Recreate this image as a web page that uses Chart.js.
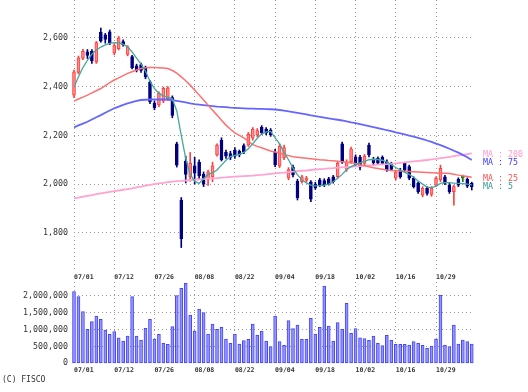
<!DOCTYPE html>
<html>
<head>
<meta charset="utf-8">
<script src="https://cdn.jsdelivr.net/npm/chart.js@4.4.1/dist/chart.umd.min.js"></script>
<style>
  body { margin: 0; background: #fff; width: 528px; height: 392px; overflow: hidden; position: relative; }
  #priceBox { position: absolute; left: 0; top: 0; width: 528px; height: 284px; }
  #volBox { position: absolute; left: 0; top: 282px; width: 528px; height: 94px; }
  #copy { position: absolute; left: 2px; top: 375px; font: 8px "DejaVu Sans Mono", monospace; color: #333; }
</style>
</head>
<body>
<div id="priceBox"><canvas id="priceChart"></canvas></div>
<div id="volBox"><canvas id="volChart"></canvas></div>
<div id="copy">(C) FISCO</div>
<script>
// trading days, 2024/07/01 - 2024/11/11
const dates = [
  '07/01','07/02','07/03','07/04','07/05','07/08','07/09','07/10','07/11','07/12',
  '07/16','07/17','07/18','07/19','07/22','07/23','07/24','07/25','07/26','07/29',
  '07/30','07/31','08/01','08/02','08/05','08/06','08/07','08/08','08/09','08/13',
  '08/14','08/15','08/16','08/19','08/20','08/21','08/22','08/23','08/26','08/27',
  '08/28','08/29','08/30','09/02','09/03','09/04','09/05','09/06','09/09','09/10',
  '09/11','09/12','09/13','09/17','09/18','09/19','09/20','09/24','09/25','09/26',
  '09/27','09/30','10/01','10/02','10/03','10/04','10/07','10/08','10/09','10/10',
  '10/11','10/15','10/16','10/17','10/18','10/21','10/22','10/23','10/24','10/25',
  '10/28','10/29','10/30','10/31','11/01','11/05','11/06','11/07','11/08','11/11'
];

const opens = [
  2365, 2458, 2515, 2543, 2545, 2500, 2622, 2612, 2625, 2538,
  2555, 2585, 2532, 2523, 2485, 2490, 2478, 2420, 2332, 2325,
  2340, 2350, 2355, 2165, 1935, 2095, 2030, 2075, 2090, 2040,
  2020, 2030, 2120, 2180, 2130, 2125, 2140, 2135, 2158, 2160,
  2188, 2202, 2233, 2225, 2222, 2130, 2075, 2108, 2026, 2070,
  2012, 2010, 2015, 2010, 2000, 2018, 2015, 2022, 2030, 2031,
  2165, 2060, 2092, 2112, 2110, 2085, 2160, 2102, 2106, 2110,
  2092, 2085, 2024, 2058, 2085, 2072, 2024, 2003, 1955, 1983,
  1958, 1996, 2017, 2030, 1996, 1969, 2020, 2024, 2020, 2003
];
const highs = [
  2468, 2525, 2553, 2552, 2552, 2585, 2640, 2618, 2632, 2576,
  2606, 2592, 2568, 2528, 2492, 2496, 2484, 2425, 2340, 2378,
  2398, 2400, 2362, 2172, 1945, 2115, 2130, 2110, 2100, 2050,
  2058, 2090, 2165, 2190, 2140, 2135, 2150, 2140, 2165, 2212,
  2232, 2228, 2240, 2232, 2228, 2143, 2165, 2160, 2068, 2078,
  2020, 2036, 2032, 2015, 2008, 2024, 2022, 2028, 2036, 2092,
  2172, 2100, 2152, 2120, 2118, 2122, 2168, 2110, 2112, 2116,
  2100, 2090, 2058, 2065, 2090, 2078, 2030, 2010, 1990, 1990,
  1990, 2030, 2078, 2036, 2003, 1996, 2026, 2037, 2026, 2008
];
const lows = [
  2355, 2452, 2510, 2515, 2495, 2495, 2582, 2578, 2572, 2530,
  2550, 2566, 2526, 2472, 2460, 2458, 2432, 2330, 2305, 2318,
  2334, 2342, 2272, 2070, 1740, 2005, 2012, 2000, 2020, 1990,
  1995, 2010, 2115, 2095, 2105, 2100, 2105, 2112, 2125, 2155,
  2180, 2195, 2203, 2202, 2196, 2072, 2068, 2100, 2018, 2030,
  1935, 2004, 2008, 1928, 1978, 1990, 1990, 1996, 2004, 2025,
  2085, 2052, 2085, 2075, 2058, 2078, 2112, 2080, 2080, 2080,
  2052, 2055, 2017, 2024, 2052, 2018, 1984, 1962, 1948, 1955,
  1950, 1990, 2010, 1998, 1962, 1914, 1990, 2010, 1986, 1976
];
const closes = [
  2460, 2518, 2545, 2528, 2505, 2580, 2586, 2593, 2578, 2568,
  2600, 2572, 2563, 2478, 2466, 2466, 2440, 2338, 2314, 2372,
  2393, 2395, 2282, 2078, 1775, 2040, 2085, 2045, 2035, 2000,
  2050, 2075, 2160, 2100, 2115, 2110, 2115, 2120, 2133, 2205,
  2225, 2220, 2210, 2210, 2202, 2080, 2155, 2150, 2060, 2038,
  1945, 2030, 2025, 1938, 1985, 1995, 1998, 2002, 2010, 2085,
  2090, 2092, 2145, 2080, 2070, 2115, 2120, 2088, 2086, 2085,
  2058, 2060, 2051, 2030, 2058, 2024, 1990, 1969, 1983, 1962,
  1983, 2024, 2065, 2003, 1969, 1990, 1996, 2024, 1992, 1990
];

const ma5 = [
  2397, 2440, 2478, 2508, 2533, 2550, 2562, 2571, 2577, 2580,
  2579, 2574, 2563, 2542, 2517, 2492, 2463, 2422, 2392, 2372,
  2362, 2357, 2350, 2300, 2200, 2105, 2040, 2012, 2003, 2022,
  2040, 2046, 2058, 2078, 2098, 2113, 2118, 2122, 2130, 2145,
  2165, 2188, 2206, 2214, 2216, 2190, 2165, 2130, 2100, 2066,
  2038, 2018, 2005, 1996, 1993, 1994, 1996, 2000, 2010, 2024,
  2040, 2060, 2072, 2080, 2087, 2093, 2100, 2102, 2101, 2098,
  2090, 2080, 2068, 2058, 2048, 2040, 2028, 2013, 2000, 1988,
  1986, 1992, 2003, 2006, 2006, 2004, 2003, 2002, 2000, 1997
];
const ma25 = [
  2341, 2349, 2357, 2365, 2374, 2383, 2392, 2404, 2416, 2427,
  2436, 2445, 2454, 2461, 2468, 2474, 2477, 2478, 2478, 2477,
  2476, 2474, 2466, 2455, 2440, 2424, 2406, 2386, 2365, 2345,
  2324, 2303, 2283, 2262, 2242, 2225, 2210, 2200, 2190, 2176,
  2162, 2155, 2149, 2142, 2136, 2132, 2128, 2122, 2117, 2112,
  2110, 2108, 2106, 2104, 2102, 2100, 2099, 2097, 2096, 2094,
  2092, 2090, 2088, 2085, 2080, 2076, 2071, 2067, 2064, 2061,
  2058, 2056, 2055, 2054, 2053, 2052, 2051, 2050, 2049, 2048,
  2047, 2046, 2045, 2045, 2044, 2041, 2037, 2034, 2031, 2028
];
const ma75 = [
  2233, 2241, 2248, 2256, 2265, 2274, 2283, 2293, 2302, 2311,
  2318, 2325, 2331, 2336, 2341, 2345, 2346, 2347, 2347, 2347,
  2347, 2347, 2344, 2341, 2338, 2335, 2331, 2328, 2326, 2324,
  2322, 2320, 2318, 2317, 2316, 2314, 2313, 2312, 2311, 2310,
  2310, 2309, 2309, 2308, 2307, 2306, 2304, 2301, 2298, 2295,
  2292, 2289, 2286, 2282, 2279, 2276, 2273, 2270, 2267, 2264,
  2261, 2257, 2253, 2250, 2246, 2242, 2238, 2234, 2230, 2226,
  2221, 2217, 2212, 2208, 2204, 2199, 2195, 2190, 2185, 2179,
  2173, 2166, 2160, 2153, 2145, 2137, 2129, 2120, 2110, 2099
];
const ma200 = [
  1942, 1945, 1949, 1952, 1955, 1959, 1962, 1965, 1968, 1971,
  1974, 1977, 1980, 1983, 1987, 1990, 1994, 1997, 2000, 2003,
  2005, 2008, 2010, 2012, 2013, 2015, 2017, 2018, 2020, 2021,
  2023, 2024, 2025, 2027, 2028, 2030, 2031, 2032, 2033, 2034,
  2035, 2037, 2038, 2040, 2042, 2044, 2046, 2047, 2049, 2051,
  2053, 2055, 2056, 2058, 2060, 2062, 2063, 2065, 2066, 2068,
  2069, 2070, 2071, 2073, 2074, 2075, 2077, 2078, 2080, 2081,
  2082, 2084, 2085, 2087, 2089, 2091, 2093, 2095, 2097, 2099,
  2102, 2104, 2107, 2109, 2112, 2115, 2118, 2120, 2123, 2126
];

const volumes = [
  2118000, 1970000, 1527000, 1006000, 1231000, 1400000, 1302000, 985000, 858000, 935000,
  757000, 660000, 808000, 1970000, 808000, 689000, 1036000, 1302000, 719000, 858000,
  592000, 562000, 1083000, 2000000, 2219000, 2367000, 1429000, 956000, 1598000, 1497000,
  867000, 1163000, 1006000, 1065000, 719000, 592000, 867000, 571000, 669000, 710000,
  1163000, 837000, 956000, 660000, 491000, 1400000, 639000, 533000, 1261000, 1024000,
  1133000, 710000, 710000, 1331000, 867000, 1065000, 2287000, 1104000, 660000, 1201000,
  1006000, 1775000, 888000, 1024000, 757000, 728000, 680000, 808000, 592000, 521000,
  828000, 680000, 562000, 562000, 562000, 542000, 639000, 592000, 533000, 444000,
  512000, 719000, 2021000, 542000, 491000, 1133000, 571000, 689000, 639000, 571000
];

const xTickIdx = [0, 9, 18, 27, 36, 45, 54, 63, 72, 81];
const priceTicks = [1800, 2000, 2200, 2400, 2600];
const volumeTicks = [0, 500000, 1000000, 1500000, 2000000];
const maNames = ['200', '75', '25', '5'];

const FONT = '"DejaVu Sans Mono", monospace';
Chart.defaults.font.family = FONT;
Chart.defaults.color = '#333';

function candleFill(i) {
  if (closes[i] > opens[i]) return '#ff8a8a';
  if (closes[i] < opens[i]) return '#000080';
  return '#3a9a3a';
}
function candleLine(i) {
  if (closes[i] > opens[i]) return '#ff4040';
  if (closes[i] < opens[i]) return '#000080';
  return '#1f7a1f';
}

// both panels share the same horizontal layout
function xScale(axisHeight) {
  return {
    type: 'linear',
    offset: false,
    min: 0,
    max: 89.5,
    grid: { color: '#999', lineWidth: 1, drawTicks: false, offset: false },
    border: { display: false, dash: [1, 3] },
    ticks: {
      align: 'start',
      padding: 3,
      font: { size: 6.5, weight: 'bold' },
      callback: function(v) { return dates[v]; }
    },
    afterBuildTicks: function(scale) {
      scale.ticks = xTickIdx.map(function(v) { return { value: v }; });
    },
    afterFit: function(scale) {
      scale.height = axisHeight;
      scale.paddingLeft = 0;
      scale.paddingRight = 0;
    }
  };
}

function yScale(min, max, tickList) {
  return {
    min: min,
    max: max,
    grid: {
      color: function(c) { return c.tick && c.tick.value === 0 ? 'rgba(0,0,0,0)' : '#999'; },
      drawTicks: false
    },
    border: { display: false, dash: [1, 3] },
    ticks: {
      padding: 6,
      font: { size: 8.3 },
      color: '#333',
      callback: function(v) { return v.toLocaleString('en-US'); }
    },
    afterBuildTicks: function(scale) {
      scale.ticks = tickList.map(function(v) { return { value: v }; });
    },
    afterFit: function(scale) {
      scale.width = 74;
      scale.paddingTop = 0;
      scale.paddingBottom = 0;
    }
  };
}

const maLabels = {
  id: 'maLabels',
  afterDatasetsDraw: function(chart) {
    const ctx = chart.ctx;
    const y = chart.scales.y;
    const area = chart.chartArea;
    const series = [ma200, ma75, ma25, ma5];
    const colors = ['#ff99cc', '#3c3cff', '#ff5050', '#2f9a8f'];
    const items = maNames.map(function(n, k) {
      return { text: 'MA : ' + n, color: colors[k], pos: y.getPixelForValue(series[k][series[k].length - 1]) };
    });
    items.sort(function(a, b) { return a.pos - b.pos; });
    for (let k = 1; k < items.length; k++) {
      items[k].pos = Math.max(items[k].pos, items[k - 1].pos + 8.2);
    }
    ctx.save();
    ctx.font = '8.3px ' + FONT;
    ctx.textBaseline = 'middle';
    items.forEach(function(it) {
      ctx.fillStyle = it.color;
      ctx.fillText(it.text, area.right + 9, it.pos + 1.5);
    });
    ctx.restore();
  }
};

function line(values, color, width) {
  return {
    type: 'line',
    data: values.map(function(v, i) { return { x: i, y: v }; }),
    borderColor: color,
    borderWidth: width,
    pointRadius: 0,
    tension: 0,
    fill: false,
    order: 0
  };
}

const priceData = {
  datasets: [
    line(ma5, '#45a89c', 1.3),
    line(ma25, '#ff7070', 1.5),
    line(ma75, '#6666ff', 1.8),
    line(ma200, '#ffa3d1', 1.8),
    {
      type: 'bar',
      data: opens.map(function(o, i) { return { x: i, y: [o, closes[i]] }; }),
      backgroundColor: function(c) { return candleFill(c.dataIndex); },
      borderColor: function(c) { return candleLine(c.dataIndex); },
      borderWidth: 1,
      borderSkipped: false,
      barThickness: 3,
      minBarLength: 2,
      grouped: false,
      clip: false,
      order: 1
    },
    {
      type: 'bar',
      data: lows.map(function(l, i) { return { x: i, y: [l, highs[i]] }; }),
      backgroundColor: function(c) { return candleLine(c.dataIndex); },
      borderWidth: 0,
      barThickness: 1,
      grouped: false,
      clip: false,
      order: 2
    }
  ]
};

const priceChart = new Chart(document.getElementById('priceChart'), {
  type: 'bar',
  data: priceData,
  options: {
    responsive: true,
    maintainAspectRatio: false,
    animation: false,
    layout: { padding: { left: 0, right: 54, top: 0, bottom: 0 } },
    plugins: { legend: { display: false }, tooltip: { enabled: false } },
    scales: {
      x: xScale(14),
      y: yScale(1648, 2755, priceTicks)
    }
  },
  plugins: [maLabels]
});

const volChart = new Chart(document.getElementById('volChart'), {
  type: 'bar',
  data: {
    datasets: [{
      data: volumes.map(function(v, i) { return { x: i, y: v }; }),
      backgroundColor: '#9494ff',
      borderColor: '#4848f0',
      borderWidth: 1,
      borderSkipped: false,
      barThickness: 3,
      clip: false
    }]
  },
  options: {
    responsive: true,
    maintainAspectRatio: false,
    animation: false,
    layout: { padding: { left: 0, right: 54, top: 0, bottom: 0 } },
    plugins: { legend: { display: false }, tooltip: { enabled: false } },
    scales: {
      x: xScale(12.7),
      y: yScale(0, 2405000, volumeTicks)
    }
  }
});
</script>
</body>
</html>
